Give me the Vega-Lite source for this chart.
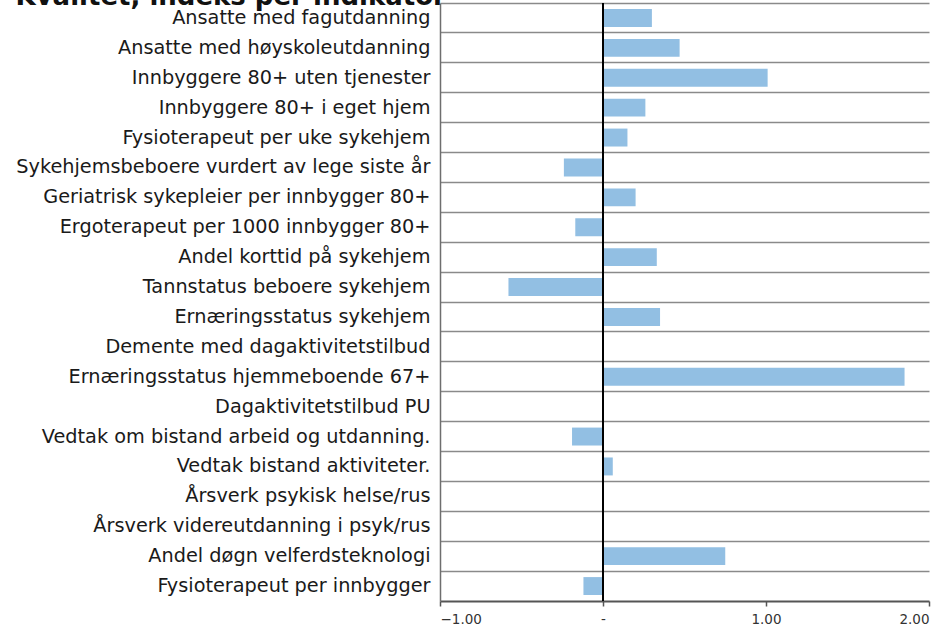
{
  "$schema": "https://vega.github.io/schema/vega-lite/v6.json",
  "autosize": {"type": "none"},
  "width": 489,
  "height": 598,
  "padding": {"left": 440, "top": 3, "right": 18, "bottom": 28},
  "background": "white",
  "config": {"view": {"stroke": null}, "font": "DejaVu Sans"},
  "data": {
    "values": [
      {"indikator": "Ansatte med fagutdanning", "indeks": 0.30},
      {"indikator": "Ansatte med høyskoleutdanning", "indeks": 0.47},
      {"indikator": "Innbyggere 80+ uten tjenester", "indeks": 1.01},
      {"indikator": "Innbyggere 80+ i eget hjem", "indeks": 0.26},
      {"indikator": "Fysioterapeut per uke sykehjem", "indeks": 0.15},
      {"indikator": "Sykehjemsbeboere vurdert av lege siste år", "indeks": -0.24},
      {"indikator": "Geriatrisk sykepleier per innbygger 80+", "indeks": 0.20},
      {"indikator": "Ergoterapeut per 1000 innbygger 80+", "indeks": -0.17},
      {"indikator": "Andel korttid på sykehjem", "indeks": 0.33},
      {"indikator": "Tannstatus beboere sykehjem", "indeks": -0.58},
      {"indikator": "Ernæringsstatus sykehjem", "indeks": 0.35},
      {"indikator": "Demente med dagaktivitetstilbud", "indeks": 0},
      {"indikator": "Ernæringsstatus hjemmeboende 67+", "indeks": 1.85},
      {"indikator": "Dagaktivitetstilbud PU", "indeks": 0},
      {"indikator": "Vedtak om bistand arbeid og utdanning.", "indeks": -0.19},
      {"indikator": "Vedtak bistand aktiviteter.", "indeks": 0.06},
      {"indikator": "Årsverk psykisk helse/rus", "indeks": 0},
      {"indikator": "Årsverk videreutdanning i psyk/rus", "indeks": 0},
      {"indikator": "Andel døgn velferdsteknologi", "indeks": 0.75},
      {"indikator": "Fysioterapeut per innbygger", "indeks": -0.12}
    ]
  },
  "layer": [
    {
      "mark": {"type": "bar", "color": "#92bfe3", "height": {"band": 0.6}},
      "encoding": {
        "y": {
          "field": "indikator",
          "type": "nominal",
          "sort": null,
          "scale": {"paddingInner": 0, "paddingOuter": 0},
          "axis": {
            "title": "Kvalitet, indeks per indikator",
            "titleAngle": 0,
            "titleX": -425,
            "titleY": 1,
            "titleAlign": "left",
            "titleBaseline": "alphabetic",
            "titleFont": "DejaVu Sans",
            "titleFontSize": 26,
            "titleFontWeight": "bold",
            "titleColor": "#111",
            "ticks": false,
            "labelFont": "DejaVu Sans",
            "labelFontSize": 19.3,
            "labelColor": "#1a1a1a",
            "labelPadding": 10,
            "labelLimit": 500,
            "domain": true,
            "domainColor": "#6e6e6e",
            "domainWidth": 1.5,
            "grid": true,
            "gridColor": "#8a8a8a",
            "gridWidth": 1.5,
            "bandPosition": 0
          }
        },
        "x": {
          "field": "indeks",
          "type": "quantitative",
          "scale": {"domain": [-1, 2], "nice": false, "zero": false},
          "axis": {
            "title": null,
            "values": [-1, 0, 1, 2],
            "labelExpr": "datum.value == 0 ? '-' : format(datum.value, '.2f')",
            "grid": false,
            "labelFont": "DejaVu Sans",
            "labelFontSize": 13.5,
            "labelColor": "#333",
            "labelPadding": 6,
            "tickSize": 5,
            "tickColor": "#555",
            "tickWidth": 1.5,
            "domainColor": "#555",
            "domainWidth": 2
          }
        }
      }
    },
    {
      "mark": {"type": "rule", "color": "#000", "strokeWidth": 1.5},
      "encoding": {"x": {"datum": 0}}
    }
  ]
}
